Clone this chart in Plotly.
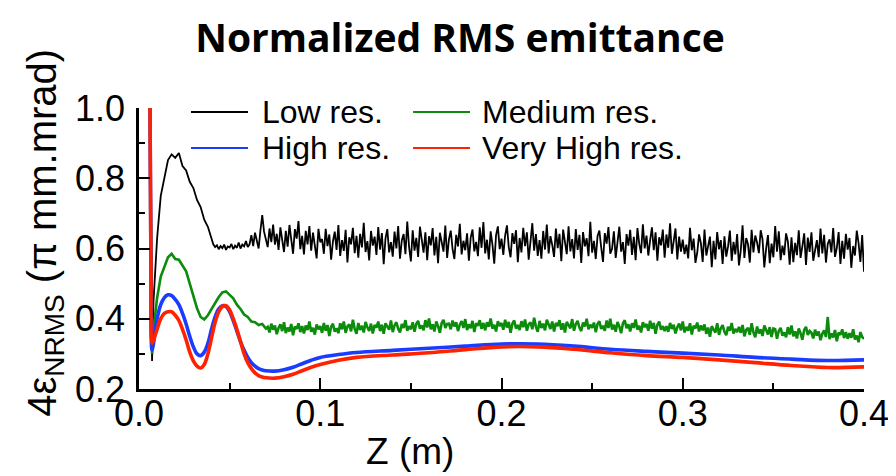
import plotly.graph_objects as go

# ---------------- data ----------------
series_names = ["Low res.", "Medium res.", "High res.", "Very High res."]
series_colors = ["#000000", "#0b8c0b", "#1a3cff", "#ff2200"]

# common start of every run (spike at injection, then dip)
z_start = [0.0060, 0.0066, 0.0072]

# Low res.: head sampled every 2 mm (0.008..0.040 m), tail every 1 mm (0.041..0.400 m)
low_head = [1.05, 0.55, 0.28,
    .45, .63, .75, .805, .852, .868, .858, .872, .835, .822, .79, .772, .738, .718, .682, .662, .632]
low_tail = [
    .612, .604, .609, .598, .607, .601, .611, .596, .606, .603, .613, .598, .608, .602, .617, .600, .611, .606, .621, .604,
    .612, .638, .607, .645, .621, .600, .652, .695, .648, .626, .604, .657, .618, .668, .611, .642, .596, .660, .624, .590,
    .650, .605, .667, .620, .585, .655, .628, .678, .598, .636, .583, .650, .612, .664, .594, .645, .608, .572, .656, .618,
    .627, .585, .656, .607, .640, .568, .620, .648, .596, .667, .579, .624, .593, .653, .560, .632, .612, .659, .587, .636,
    .574, .642, .603, .673, .590, .621, .566, .650, .608, .634, .582, .661, .597, .644, .555, .629, .655, .589, .618, .577,
    .648, .600, .664, .571, .623, .641, .584, .677, .605, .563, .652, .594, .630, .576, .662, .617, .588, .646, .567, .635,
    .609, .658, .580, .633, .558, .645, .616, .591, .665, .573, .626, .651, .599, .570, .639, .606, .670, .583, .622, .595,
    .643, .565, .631, .654, .592, .619, .578, .660, .602, .675, .586, .625, .569, .649, .611, .557, .638, .663, .598, .628,
    .582, .637, .666, .604, .575, .644, .613, .652, .561, .630, .589, .659, .607, .646, .568, .621, .672, .594, .641, .579,
    .624, .571, .650, .597, .668, .586, .635, .610, .576, .657, .601, .642, .564, .654, .618, .584, .663, .592, .627, .572,
    .655, .596, .639, .559, .647, .606, .629, .578, .676, .588, .622, .570, .636, .651, .603, .562, .644, .614, .661, .585,
    .599, .649, .573, .626, .662, .591, .618, .556, .641, .608, .653, .582, .633, .567, .658, .613, .587, .669, .600, .637,
    .580, .623, .660, .595, .646, .565, .632, .609, .654, .574, .640, .602, .672, .585, .619, .657, .569, .634, .591, .625,
    .584, .611, .572, .659, .595, .628, .559, .588, .640, .615, .562, .654, .580, .605, .634, .547, .622, .569, .647, .598,
    .624, .556, .635, .577, .606, .651, .565, .619, .583, .641, .552, .594, .666, .573, .630, .612, .560, .653, .589, .637,
    .617, .587, .652, .627, .546, .600, .638, .558, .614, .575, .664, .591, .649, .567, .608, .581, .643, .620, .554, .632,
    .561, .616, .581, .652, .573, .607, .643, .553, .631, .590, .646, .565, .599, .624, .575, .657, .586, .639, .560, .613,
    .626, .589, .658, .576, .602, .647, .556, .622, .571, .642, .597, .630, .545, .607, .580, .651, .615, .562, .638, .534]

# Medium res.: head every 2 mm (0.008..0.070 m), tail every 1 mm (0.071..0.400 m)
med_head = [1.05, 0.55, 0.30,
    .37, .46, .52, .55, .575, .585, .57, .568, .55, .535, .50, .465, .43, .405, .398, .41,
    .428, .448, .462, .475, .478, .468, .458, .44, .428, .412, .405, .392, .39, .382, .385, .372]
med_tail = [
    .377, .361, .386, .369, .381, .356, .374, .384, .365, .390, .359, .375, .364, .385, .353, .378, .371, .387, .362, .379,
    .358, .381, .368, .392, .363, .374, .355, .384, .370, .379, .360, .388, .366, .382, .351, .377, .386, .363, .373, .359,
    .387, .370, .392, .360, .378, .384, .364, .397, .371, .357, .388, .368, .380, .361, .391, .376, .365, .386, .358, .382,
    .375, .392, .365, .383, .357, .387, .377, .369, .395, .362, .381, .390, .371, .361, .385, .374, .396, .366, .379, .370,
    .390, .363, .386, .394, .372, .381, .367, .396, .375, .401, .370, .384, .364, .392, .379, .360, .388, .397, .374, .385,
    .386, .370, .395, .378, .390, .365, .383, .393, .374, .399, .368, .384, .373, .394, .362, .387, .380, .396, .371, .388,
    .367, .390, .377, .401, .372, .383, .364, .393, .379, .388, .369, .397, .375, .391, .360, .386, .395, .372, .382, .368,
    .393, .376, .398, .366, .384, .390, .370, .403, .377, .363, .394, .374, .386, .367, .397, .382, .371, .392, .364, .388,
    .379, .396, .369, .387, .361, .391, .381, .373, .399, .366, .385, .394, .375, .365, .389, .378, .400, .370, .383, .374,
    .389, .362, .385, .393, .371, .380, .366, .395, .374, .400, .369, .383, .363, .391, .378, .359, .387, .396, .373, .384,
    .364, .387, .374, .398, .369, .380, .361, .390, .376, .385, .366, .394, .372, .388, .357, .383, .392, .369, .379, .365,
    .379, .363, .388, .371, .383, .358, .376, .386, .367, .392, .361, .377, .366, .387, .355, .380, .373, .389, .364, .381,
    .367, .384, .357, .375, .349, .379, .369, .361, .387, .354, .373, .382, .363, .353, .377, .366, .388, .358, .371, .362,
    .377, .360, .382, .350, .368, .374, .354, .387, .361, .347, .378, .358, .370, .351, .381, .366, .355, .376, .348, .372,
    .370, .343, .366, .374, .352, .361, .347, .376, .355, .381, .350, .364, .344, .372, .359, .340, .368, .377, .354, .365,
    .360, .344, .369, .352, .364, .339, .357, .367, .348, .405, .342, .358, .347, .368, .336, .361, .354, .370, .345, .362,
    .343, .359, .346, .370, .341, .352, .333, .362, .348, .343]

z_low = (z_start
         + [round(0.008 + 0.002 * i, 3) for i in range(len(low_head) - 3)]
         + [round(0.041 + 0.001 * i, 3) for i in range(len(low_tail))])
low_res = low_head + low_tail
z_med = (z_start
         + [round(0.008 + 0.002 * i, 3) for i in range(len(med_head) - 3)]
         + [round(0.071 + 0.001 * i, 3) for i in range(len(med_tail))])
medium_res = med_head + med_tail

# the two finest runs are nearly noise-free: sampled on a coarser grid
z_smooth = [0.0060, 0.0066, 0.0072,
    0.008, 0.010, 0.012, 0.014, 0.016, 0.018, 0.020, 0.022, 0.024, 0.026,
    0.028, 0.030, 0.032, 0.034, 0.036, 0.038, 0.040, 0.042, 0.044, 0.046,
    0.048, 0.050, 0.052, 0.054, 0.056, 0.058, 0.060, 0.062, 0.064, 0.066,
    0.068, 0.070,
    0.075, 0.080, 0.085, 0.090, 0.095, 0.100,
    0.110, 0.120, 0.140, 0.160, 0.180, 0.200, 0.220, 0.240, 0.260, 0.280,
    0.300, 0.320, 0.340, 0.360, 0.380, 0.400]

high_res = [1.05, 0.55, 0.31,
    0.33, 0.40, 0.44, 0.46, 0.468, 0.466, 0.455, 0.44, 0.415, 0.385,
    0.35, 0.32, 0.30, 0.295, 0.305, 0.33, 0.37, 0.405, 0.428, 0.437,
    0.435, 0.42, 0.395, 0.365, 0.335, 0.31, 0.29, 0.275, 0.265, 0.258,
    0.254, 0.252,
    0.251, 0.255, 0.262, 0.272, 0.282, 0.29,
    0.298, 0.304, 0.31, 0.316, 0.322, 0.328, 0.328, 0.322, 0.313, 0.307,
    0.302, 0.297, 0.29, 0.285, 0.281, 0.283]

very_high_res = [1.05, 0.55, 0.33,
    0.34, 0.37, 0.40, 0.415, 0.42, 0.42, 0.41, 0.395, 0.37, 0.34,
    0.305, 0.28, 0.265, 0.26, 0.27, 0.30, 0.345, 0.39, 0.42, 0.435,
    0.437, 0.425, 0.40, 0.37, 0.335, 0.30, 0.275, 0.258, 0.246, 0.238,
    0.234, 0.232,
    0.231, 0.235, 0.242, 0.252, 0.262, 0.27,
    0.282, 0.29, 0.297, 0.303, 0.312, 0.32, 0.32, 0.313, 0.303, 0.295,
    0.29, 0.283, 0.275, 0.267, 0.261, 0.263]

x_ticks = [0.0, 0.1, 0.2, 0.3, 0.4]
x_tick_labels = ["0.0", "0.1", "0.2", "0.3", "0.4"]
y_ticks = [0.2, 0.4, 0.6, 0.8, 1.0]
y_tick_labels = ["0.2", "0.4", "0.6", "0.8", "1.0"]

# ---------------- figure ----------------
FONT = "Liberation Sans, Arial, sans-serif"

fig = go.Figure()
xs = [z_low, z_med, z_smooth, z_smooth]
ys = [low_res, medium_res, high_res, very_high_res]
widths = [1.8, 2.6, 3.6, 3.6]
shapes_ = ["linear", "linear", "spline", "spline"]
for name, color, x, y, w, sh in zip(series_names, series_colors, xs, ys, widths, shapes_):
    fig.add_trace(go.Scatter(x=x, y=y, mode="lines", name=name,
                             line=dict(color=color, width=w, shape=sh),
                             showlegend=False))

axis_common = dict(showline=True, linecolor="black", linewidth=2.5,
                   ticks="inside", ticklen=11, tickwidth=2, tickcolor="black",
                   showgrid=False, zeroline=False, mirror=False,
                   tickfont=dict(family=FONT, size=36, color="black"))

fig.update_xaxes(range=[0, 0.4], tickvals=x_ticks, ticktext=x_tick_labels,
                 minor=dict(dtick=0.05, tick0=0, ticks="inside", ticklen=6,
                            tickwidth=2, tickcolor="black"),
                 ticklabelstandoff=-9, **axis_common)
fig.update_yaxes(range=[0.2, 1.0], tickvals=y_ticks, ticktext=y_tick_labels,
                 minor=dict(dtick=0.1, tick0=0.2, ticks="inside", ticklen=6,
                            tickwidth=2, tickcolor="black"),
                 ticklabelstandoff=4, **axis_common)

# hand-drawn legend (two columns, long line samples)
leg_pos = [(0.0717, 0.1503, 0.1669, 0.9858),
           (0.3780, 0.4566, 0.4703, 0.9858),
           (0.0717, 0.1503, 0.1669, 0.8577),
           (0.3780, 0.4566, 0.4703, 0.8577)]
shapes = []
annotations = []
for name, color, (x0, x1, xt, yy) in zip(series_names, series_colors, leg_pos):
    shapes.append(dict(type="line", xref="paper", yref="paper", x0=x0, x1=x1,
                       y0=yy, y1=yy, line=dict(color=color, width=2)))
    annotations.append(dict(text=name, xref="paper", yref="paper", x=xt, y=yy,
                            xanchor="left", yanchor="middle", showarrow=False,
                            font=dict(family=FONT, size=32, color="black")))

annotations.append(dict(text="4ε<sub>NRMS</sub> (π mm.mrad)", xref="paper", yref="paper",
                        x=-0.13, y=0.555, xanchor="center", yanchor="middle",
                        textangle=-90, showarrow=False,
                        font=dict(family=FONT, size=40, color="black")))
annotations.append(dict(text="Z (m)", xref="paper", yref="paper",
                        x=(402 - 131) / 725, y=-0.222, xanchor="center", yanchor="middle",
                        showarrow=False, font=dict(family=FONT, size=37, color="black")))

fig.update_layout(
    width=896, height=476,
    margin=dict(l=131, r=40, t=100, b=95),
    paper_bgcolor="white", plot_bgcolor="white",
    title=dict(text="<b>Normalized RMS emittance</b>", xref="container", yref="container",
               x=452 / 896, y=1 - 30 / 476, xanchor="center", yanchor="middle",
               font=dict(family="Open Sans, Lato, sans-serif", size=39, color="black")),
    shapes=shapes, annotations=annotations,
)

fig.write_html("out.html")
